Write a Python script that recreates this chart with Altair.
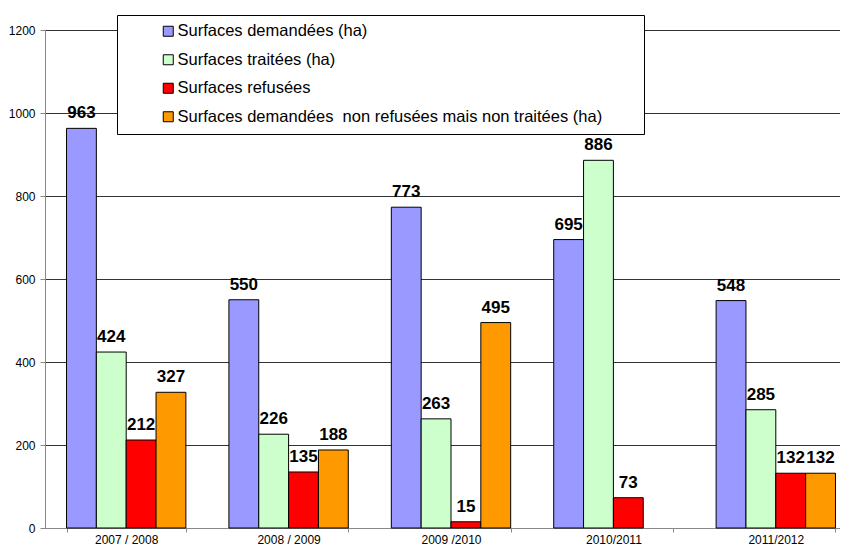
import altair as alt
import pandas as pd

years = ["2007 / 2008", "2008 / 2009", "2009 /2010", "2010/2011", "2011/2012"]
series = [
    "Surfaces demandées (ha)",
    "Surfaces traitées (ha)",
    "Surfaces refusées",
    "Surfaces demandées\u00a0 non refusées mais non traitées (ha)",
]
demandees = [963, 550, 773, 695, 548]
traitees = [424, 226, 263, 886, 285]
refusees = [212, 135, 15, 73, 132]
non_traitees = [327, 188, 495, None, 132]
colors = ["#9999FF", "#CCFFCC", "#FF0000", "#FF9900"]
y_ticks = [0, 200, 400, 600, 800, 1000, 1200]

rows = []
for s, vals in zip(series, [demandees, traitees, refusees, non_traitees]):
    for yr, v in zip(years, vals):
        rows.append({"year": yr, "series": s, "value": v})
df = pd.DataFrame(rows)

FONT = "Arial"

base = alt.Chart(df).encode(
    x=alt.X(
        "year:N",
        sort=years,
        scale=alt.Scale(range=[0, 812], paddingInner=0.265, paddingOuter=0.1325),
        axis=alt.Axis(
            title=None, labelAngle=0, tickBand="extent", tickSize=4,
            labelPadding=2, labelFontSize=12, grid=False,
        ),
    ),
    xOffset=alt.XOffset("series:N", sort=series, scale=alt.Scale(domain=series, paddingInner=0)),
    y=alt.Y(
        "value:Q",
        scale=alt.Scale(domain=[0, 1200]),
        axis=alt.Axis(
            title=None, values=y_ticks, format="d", grid=True, tickSize=5, labelPadding=5,
            labelFontSize=12, gridColor="#333333", gridWidth=1,
        ),
    ),
)

bars = base.mark_bar(stroke="black", strokeWidth=1).encode(
    color=alt.Color(
        "series:N",
        sort=series,
        scale=alt.Scale(domain=series, range=colors),
        legend=alt.Legend(
            title=".",
            titleOrient="right",
            titlePadding=30,
            titleFontSize=11,
            titleColor="white",
            titleOpacity=0,
            orient="none",
            legendX=72,
            legendY=-15,
            fillColor="white",
            strokeColor="black",
            padding=8,
            symbolType="square",
            symbolSize=100,
            symbolStrokeColor="black",
            symbolStrokeWidth=1,
            symbolOffset=35,
            labelFont=FONT,
            labelFontSize=16.5,
            labelColor="black",
            labelOffset=1,
            labelLimit=1000,
            rowPadding=11.5,
        ),
    )
)

text = base.mark_text(
    font=FONT, fontSize=17, fontWeight="bold", color="black",
    baseline="alphabetic", dy=-10,
).encode(text=alt.Text("value:Q", format="d"))

chart = (
    alt.layer(bars, text)
    .properties(
        width=795,
        height=498,
        autosize=alt.AutoSizeParams(type="none"),
        padding={"left": 37, "top": 22, "right": 0, "bottom": 18},
    )
    .configure_view(stroke=None)
    .configure_axis(
        labelFont=FONT, labelColor="black", domainColor="black",
        tickColor="black", domainWidth=1,
    )
    .configure(background="white")
)

chart.save("out.html", embed_options={"renderer": "svg", "actions": False})
